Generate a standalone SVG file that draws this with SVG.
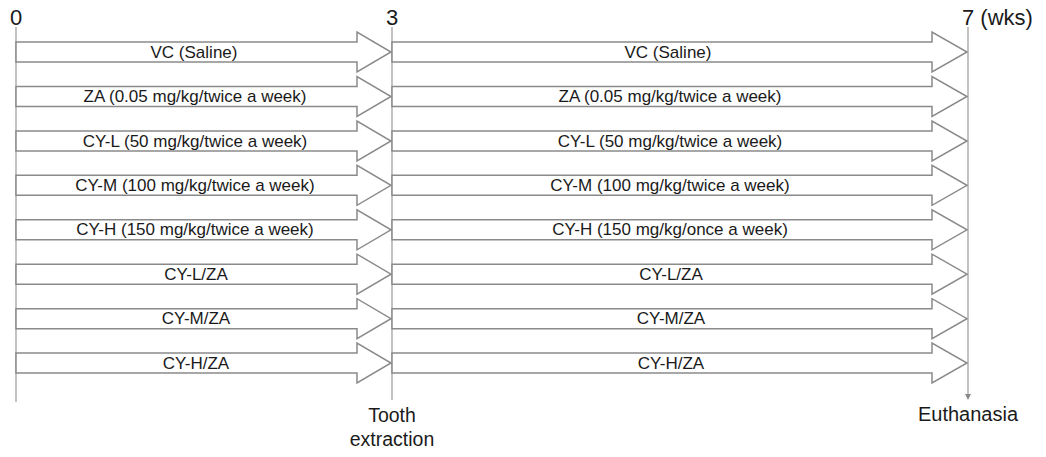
<svg xmlns="http://www.w3.org/2000/svg" width="1046" height="457" viewBox="0 0 1046 457">
<style>
.arr{fill:#fff;stroke:#8a8a8a;stroke-width:1.5;stroke-linejoin:miter}
.lbl{font-family:"Liberation Sans",Arial,sans-serif;font-size:17px;fill:#1a1a1a;text-anchor:middle}
.tl{stroke:#9a9a9a;stroke-width:1.2;fill:none}
.ax{font-family:"Liberation Sans",Arial,sans-serif;font-size:22px;fill:#1a1a1a}
.bt{font-family:"Liberation Sans",Arial,sans-serif;font-size:19.5px;fill:#1a1a1a;text-anchor:middle}
</style>
<defs>
<polygon id="a1" points="16,-10 357,-10 357,-20 391,0 357,20 357,10 16,10 Z"/>
<polygon id="a2" points="392,-10 932,-10 932,-20 967,0 932,20 932,10 392,10 Z"/>
</defs>
<g id="connectors">
<line class="tl" x1="16" y1="27" x2="16" y2="402"/>
<line class="tl" x1="392" y1="27" x2="392" y2="400"/>
<line class="tl" x1="968" y1="27" x2="968" y2="395"/>
<path d="M965,394 L971,394 L968,400 Z" fill="#888"/>
</g>
<g id="axis">
<text class="ax" x="16" y="25" text-anchor="middle">0</text>
<text class="ax" x="392" y="25" text-anchor="middle">3</text>
<text class="ax" x="962" y="25">7 (wks)</text>
<text class="bt" x="392" y="422">Tooth</text>
<text class="bt" x="392" y="446">extraction</text>
<text class="bt" x="968" y="421" style="font-size:20px">Euthanasia</text>
</g>
<g id="row1" transform="translate(0,52)">
<use href="#a1" class="arr"/><use href="#a2" class="arr"/>
<text class="lbl" x="194" y="5.5">VC (Saline)</text>
<text class="lbl" x="668" y="5.5">VC (Saline)</text>
</g>
<g id="row2" transform="translate(0,96.5)">
<use href="#a1" class="arr"/><use href="#a2" class="arr"/>
<text class="lbl" x="195" y="5.5">ZA (0.05 mg/kg/twice a week)</text>
<text class="lbl" x="670" y="5.5">ZA (0.05 mg/kg/twice a week)</text>
</g>
<g id="row3" transform="translate(0,141)">
<use href="#a1" class="arr"/><use href="#a2" class="arr"/>
<text class="lbl" x="195" y="5.5">CY-L (50 mg/kg/twice a week)</text>
<text class="lbl" x="670" y="5.5">CY-L (50 mg/kg/twice a week)</text>
</g>
<g id="row4" transform="translate(0,185.3)">
<use href="#a1" class="arr"/><use href="#a2" class="arr"/>
<text class="lbl" x="195" y="5.5">CY-M (100 mg/kg/twice a week)</text>
<text class="lbl" x="670" y="5.5">CY-M (100 mg/kg/twice a week)</text>
</g>
<g id="row5" transform="translate(0,229.8)">
<use href="#a1" class="arr"/><use href="#a2" class="arr"/>
<text class="lbl" x="195" y="5.5">CY-H (150 mg/kg/twice a week)</text>
<text class="lbl" x="670" y="5.5">CY-H (150 mg/kg/once a week)</text>
</g>
<g id="row6" transform="translate(0,274.2)">
<use href="#a1" class="arr"/><use href="#a2" class="arr"/>
<text class="lbl" x="196" y="5.5">CY-L/ZA</text>
<text class="lbl" x="671" y="5.5">CY-L/ZA</text>
</g>
<g id="row7" transform="translate(0,318.7)">
<use href="#a1" class="arr"/><use href="#a2" class="arr"/>
<text class="lbl" x="196" y="5.5">CY-M/ZA</text>
<text class="lbl" x="671" y="5.5">CY-M/ZA</text>
</g>
<g id="row8" transform="translate(0,363)">
<use href="#a1" class="arr"/><use href="#a2" class="arr"/>
<text class="lbl" x="196" y="5.5">CY-H/ZA</text>
<text class="lbl" x="671" y="5.5">CY-H/ZA</text>
</g>
</svg>
